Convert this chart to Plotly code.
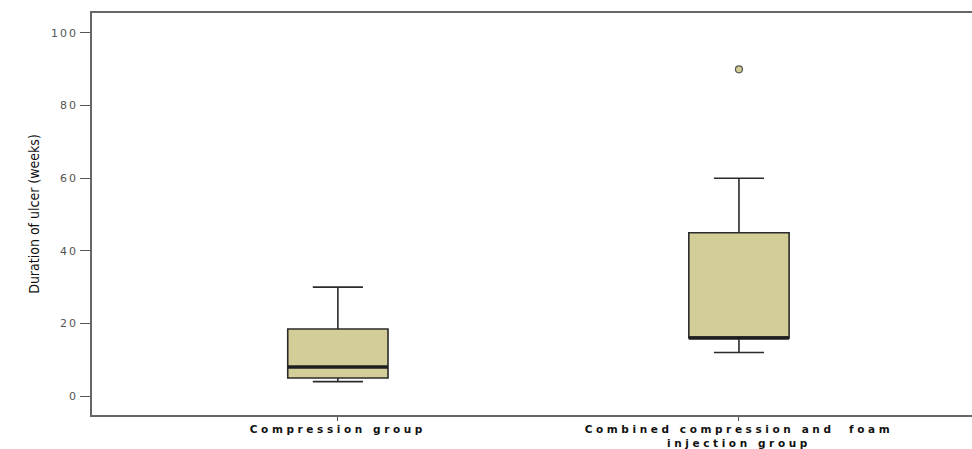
import plotly.graph_objects as go

categories = ["Compression group", "Combined compression and  foam<br>injection group"]
lower_whisker = [4, 12]
q1 = [5, 16]
median = [8, 16]
q3 = [18.5, 45]
upper_whisker = [30, 60]
outliers = [[], [90]]
y_ticks = [0, 20, 40, 60, 80, 100]

box_fill = "#D3CE97"
box_line = "#2b2b2b"
box_width = 0.25

fig = go.Figure()
for i, cat in enumerate(categories):
    fig.add_trace(go.Box(
        x=[i], q1=[q1[i]], median=[median[i]], q3=[q3[i]],
        lowerfence=[lower_whisker[i]], upperfence=[upper_whisker[i]],
        width=box_width, whiskerwidth=0.5,
        fillcolor=box_fill, line=dict(color=box_line, width=1.6),
        boxpoints=False, showlegend=False, hoverinfo="skip",
    ))
    if outliers[i]:
        fig.add_trace(go.Scatter(
            x=[i] * len(outliers[i]), y=outliers[i], mode="markers",
            marker=dict(symbol="circle", size=7, color=box_fill,
                        line=dict(color="#555555", width=1.2)),
            showlegend=False, hoverinfo="skip",
        ))
    # thick median line
    fig.add_shape(type="line", xref="x", yref="y",
                  x0=i - box_width / 2, x1=i + box_width / 2,
                  y0=median[i], y1=median[i],
                  line=dict(color="#1e1e1e", width=3.5))

def spaced(txt, ls):
    return "<br>".join('<span style="letter-spacing:%spx">%s</span>' % (ls, part) for part in txt.split("<br>"))

ticktext = ["<b>" + spaced(c, 3.6) + "</b>" for c in categories]
yticktext = [spaced(str(v), 2) for v in y_ticks]

fig.update_layout(
    width=972, height=449,
    margin=dict(l=92, r=0, t=13, b=34),
    plot_bgcolor="white", paper_bgcolor="white",
    xaxis=dict(
        range=[-0.613, 1.581], tickvals=list(range(len(categories))), ticktext=ticktext,
        showgrid=False, zeroline=False, showline=True, linecolor="#666666", linewidth=1.5,
        mirror=True, ticks="outside", ticklen=4, tickcolor="#555555", automargin=False,
        tickfont=dict(family="DejaVu Sans", size=10.5, color="#111111"),
    ),
    yaxis=dict(
        range=[-5.2, 105.5], tickvals=y_ticks, ticktext=yticktext, automargin=False,
        showgrid=False, zeroline=False, showline=True, linecolor="#666666", linewidth=1.5,
        ticks="outside", ticklen=10, tickcolor="#555555",
        tickfont=dict(family="DejaVu Sans", size=11, color="#555555"),
        title=dict(text="Duration of ulcer (weeks)", standoff=8,
                   font=dict(family="DejaVu Sans Condensed", size=14, color="#111111")),
    ),
)

fig.write_html("out.html", config={"displayModeBar": False},
               post_script="document.body.style.margin='0';")
